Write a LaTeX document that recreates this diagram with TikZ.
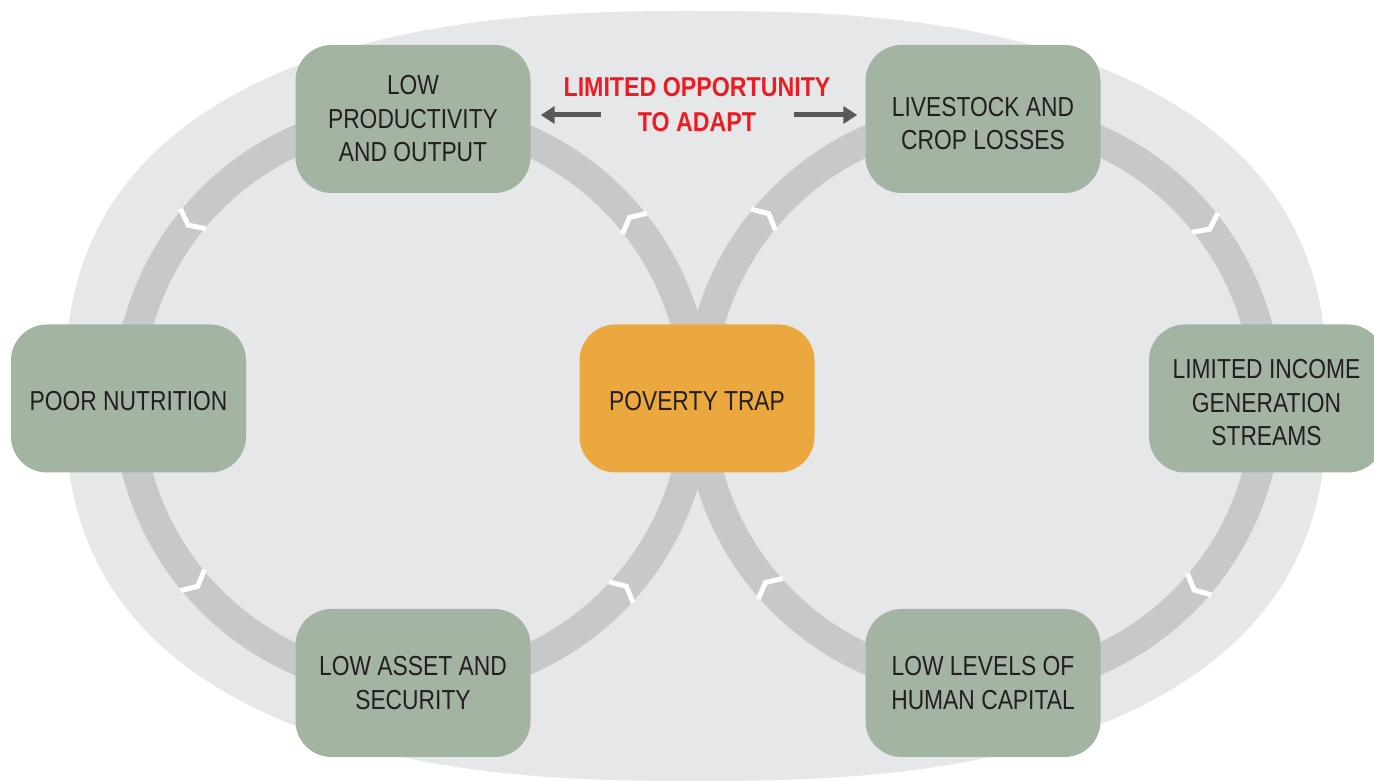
\documentclass[tikz,border=0pt]{standalone}
\usepackage{fontspec}
\usetikzlibrary{arrows.meta,calc}
\newfontfamily\boxfont{Liberation Sans}[FakeStretch=0.83]
\newfontfamily\redfont{Liberation Sans}[FakeStretch=0.85]
\definecolor{bgc}{HTML}{E6E7E8}
\definecolor{ringc}{HTML}{C7C8CA}
\definecolor{boxg}{HTML}{A3B4A3}
\definecolor{orng}{HTML}{EBA83F}
\definecolor{redc}{HTML}{ED1C24}
\definecolor{arrc}{HTML}{58595B}
\definecolor{txt}{HTML}{231F20}
\newcommand\lowerby[1]{\rule{0pt}{#1}}
\begin{document}
\begin{tikzpicture}[x=1pt,y=1pt,
  box/.style={fill=boxg, rounded corners=36pt, minimum width=235pt, minimum height=148pt,
    inner sep=0pt, align=center, text=txt, font=\boxfont\fontsize{27.5}{33.5}\selectfont},
  ring/.style={draw=ringc, line width=30pt},
  chev/.style={draw=white, line width=5pt, line join=miter},
  redtxt/.style={text=redc, inner sep=0pt, font=\redfont\bfseries\fontsize{27.3}{35}\selectfont},
  arr/.style={draw=arrc, line width=5pt, -{Triangle[length=14pt,width=17pt]}}]
\clip (0,0) rectangle (1374,781);
\fill[white] (0,0) rectangle (1374,781);
% background superellipse
\fill[bgc] plot[domain=0.5:360.5,samples=181]
  ({696+631*sign(cos(\x))*abs(cos(\x))^0.8},{385+385*sign(sin(\x))*abs(sin(\x))^0.8}) -- cycle;
% rings
\draw[ring] (412,381) circle[radius=284];
\draw[ring] (983,381) circle[radius=284];
% chevrons: left ring counter-clockwise
\foreach \a in {142,40,319,221}{
  \begin{scope}[shift={(412,381)},rotate=\a]
    \draw[chev] (268,-8) -- (284,0) -- (300,-8);
  \end{scope}
}
% chevrons: right ring clockwise
\foreach \a in {139,37,318,220}{
  \begin{scope}[shift={(983,381)},rotate=\a]
    \draw[chev] (268,8) -- (284,0) -- (300,8);
  \end{scope}
}
% boxes
\node[box] (lp) at (413,662) {LOW\\PRODUCTIVITY\\AND OUTPUT};
\node[box] (pn) at (128.5,382.5) {\lowerby{24.5pt}POOR NUTRITION};
\node[box, fill=orng] (pt) at (697,382.5) {\lowerby{24.5pt}POVERTY TRAP};
\node[box] (lc) at (983,662) {\lowerby{28pt}LIVESTOCK AND\\CROP LOSSES};
\node[box] (li) at (1266.5,382.5) {\lowerby{28pt}LIMITED INCOME\\GENERATION\\STREAMS};
\node[box] (la) at (413,98) {LOW ASSET AND\\SECURITY};
\node[box] (hc) at (983,98) {LOW LEVELS OF\\HUMAN CAPITAL};
% red label and arrows
\node[redtxt, anchor=base] (o1) at (697,684) {LIMITED OPPORTUNITY};
\node[redtxt, anchor=base] (o2) at (697,649) {TO ADAPT};
\coordinate (aL) at ($(o2.base west)+(-37,17)$);
\coordinate (aR) at ($(o2.base east)+(38,17)$);
\draw[arr] (aL) -- ($(aL -| lp.east)+(10,0)$);
\draw[arr] (aR) -- ($(aR -| lc.west)+(-8,0)$);
\end{tikzpicture}
\end{document}
